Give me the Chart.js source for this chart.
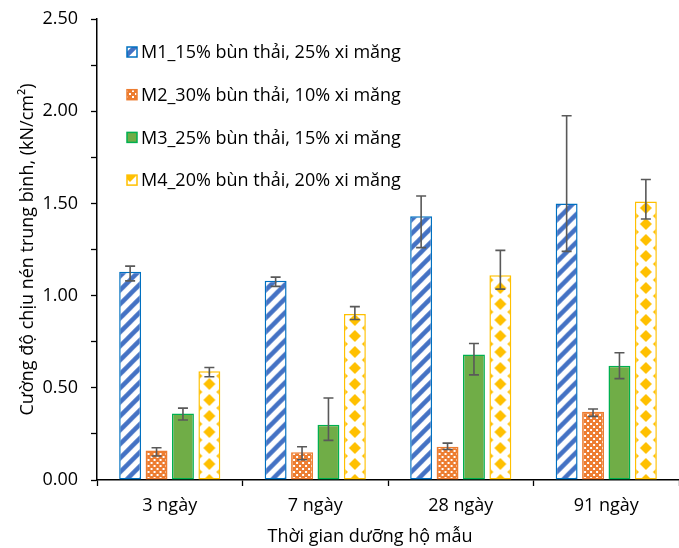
<!DOCTYPE html>
<html>
<head>
<meta charset="utf-8">
<script src="https://cdn.jsdelivr.net/npm/chart.js@4"></script>
<style>
  body { margin: 0; background: #fff; }
  #wrap { width: 679px; height: 548px; }
</style>
</head>
<body>
<div id="wrap"><canvas id="myChart"></canvas></div>
<script>
// data
const labels = ["3 ngày", "7 ngày", "28 ngày", "91 ngày"];
const seriesNames = [
	"M1_15% bùn thải, 25% xi măng",
	"M2_30% bùn thải, 10% xi măng",
	"M3_25% bùn thải, 15% xi măng",
	"M4_20% bùn thải, 20% xi măng",
];
const m1 = [1.13, 1.08, 1.43, 1.50];
const m2 = [0.16, 0.15, 0.18, 0.37];
const m3 = [0.36, 0.30, 0.68, 0.62];
const m4 = [0.59, 0.90, 1.11, 1.51];
// error bars (upper / lower amounts)
const m1Plus = [0.03, 0.02, 0.11, 0.475];
const m1Minus = [0.05, 0.03, 0.17, 0.26];
const m2Plus = [0.015, 0.03, 0.02, 0.015];
const m2Minus = [0.03, 0.04, 0.015, 0.025];
const m3Plus = [0.03, 0.145, 0.06, 0.07];
const m3Minus = [0.035, 0.085, 0.11, 0.07];
const m4Plus = [0.02, 0.04, 0.135, 0.12];
const m4Minus = [0.03, 0.03, 0.075, 0.095];
const yTicks = [0, 0.5, 1.0, 1.5, 2.0, 2.5];

const FONT = "'Open Sans', sans-serif";
const catPct = 0.726;
const barPct = 0.83;

function makeTile(kind) {
	const c = document.createElement("canvas");
	const g = c.getContext("2d");
	if (kind === "stripe") {
		c.width = 14; c.height = 14;
		g.fillStyle = "#fff"; g.fillRect(0, 0, 14, 14);
		g.strokeStyle = "#4472C4"; g.lineWidth = 4.5;
		g.beginPath();
		g.moveTo(-7, 7); g.lineTo(7, -7);
		g.moveTo(0, 14); g.lineTo(14, 0);
		g.moveTo(7, 21); g.lineTo(21, 7);
		g.stroke();
	} else if (kind === "check") {
		c.width = 6; c.height = 6;
		g.fillStyle = "#ED7D31"; g.fillRect(0, 0, 6, 6);
		g.fillStyle = "#fff";
		g.fillRect(0, 0, 2, 2);
		g.fillRect(3, 3, 2, 2);
	} else if (kind === "diamond") {
		c.width = 26; c.height = 16;
		g.fillStyle = "#fff"; g.fillRect(0, 0, 26, 16);
		g.fillStyle = "#FFC000";
		const pts = [[0, 0], [26, 0], [0, 16], [26, 16], [13, 8]];
		pts.forEach(([x, y]) => {
			g.beginPath();
			g.moveTo(x, y - 6); g.lineTo(x + 6, y); g.lineTo(x, y + 6); g.lineTo(x - 6, y);
			g.closePath(); g.fill();
		});
	}
	return c;
}

const tiles = {
	stripe: makeTile("stripe"),
	check: makeTile("check"),
	diamond: makeTile("diamond"),
};

function patternFill(kind) {
	return (ctx) => {
		const chart = ctx.chart;
		const pat = chart.ctx.createPattern(tiles[kind], "repeat");
		const sx = chart.scales && chart.scales.x;
		if (ctx.type === "data" && sx) {
			const slot = (sx.width / labels.length) * catPct / 4;
			const cx = sx.getPixelForValue(ctx.dataIndex) + (ctx.datasetIndex - 1.5) * slot;
			pat.setTransform(new DOMMatrix([1, 0, 0, 1, cx, 0]));
		}
		return pat;
	};
}

const errPlus = [m1Plus, m2Plus, m3Plus, m4Plus];
const errMinus = [m1Minus, m2Minus, m3Minus, m4Minus];

const errorBars = {
	id: "errorBars",
	afterDatasetsDraw(chart) {
		const g = chart.ctx;
		const y = chart.scales.y;
		g.save();
		g.strokeStyle = "#595959";
		g.lineWidth = 1.6;
		chart.data.datasets.forEach((ds, di) => {
			const meta = chart.getDatasetMeta(di);
			meta.data.forEach((bar, i) => {
				const v = ds.data[i];
				const top = y.getPixelForValue(v + errPlus[di][i]);
				const bot = y.getPixelForValue(v - errMinus[di][i]);
				g.beginPath();
				g.moveTo(bar.x, top); g.lineTo(bar.x, bot);
				g.moveTo(bar.x - 5, top); g.lineTo(bar.x + 5, top);
				g.moveTo(bar.x - 5, bot); g.lineTo(bar.x + 5, bot);
				g.stroke();
			});
		});
		g.restore();
	},
};

const legendBox = {
	id: "legendBox",
	afterDraw(chart) {
		const g = chart.ctx;
		g.save();
		g.font = "18px " + FONT;
		g.textBaseline = "middle";
		chart.data.datasets.forEach((ds, i) => {
			const yc = 52 + i * 42.7;
			const fill = ds.legendFill;
			g.fillStyle = tiles[fill] ? g.createPattern(tiles[fill], "repeat") : fill;
			g.fillRect(127, yc - 5, 10, 10);
			g.strokeStyle = ds.borderColor;
			g.lineWidth = 1.5;
			g.strokeRect(127, yc - 5, 10, 10);
			g.fillStyle = "#000";
			g.fillText(ds.label, 141, yc + 1);
		});
		// x axis title
		g.textAlign = "center";
		g.fillText("Thời gian dưỡng hộ mẫu", 370, 537);
		g.restore();
	},
};

const ctx = document.getElementById("myChart").getContext("2d");
const myChart = new Chart(ctx, {
	type: "bar",
	data: {
		labels: labels,
		datasets: [
			{
				label: seriesNames[0],
				data: m1,
				backgroundColor: patternFill("stripe"),
				legendFill: "stripe",
				borderColor: "#0070C0",
			},
			{
				label: seriesNames[1],
				data: m2,
				backgroundColor: patternFill("check"),
				legendFill: "check",
				borderColor: "#ED7D31",
			},
			{
				label: seriesNames[2],
				data: m3,
				backgroundColor: "#70AD47",
				legendFill: "#70AD47",
				borderColor: "#00B050",
			},
			{
				label: seriesNames[3],
				data: m4,
				backgroundColor: patternFill("diamond"),
				legendFill: "diamond",
				borderColor: "#FFC000",
			},
		],
	},
	options: {
		responsive: true,
		maintainAspectRatio: false,
		animation: false,
		layout: { padding: { top: 19, right: 0, bottom: 0, left: 0 } },
		datasets: {
			bar: {
				categoryPercentage: catPct,
				barPercentage: barPct,
				borderWidth: 1.5,
				borderSkipped: false,
			},
		},
		plugins: {
			legend: { display: false },
			tooltip: { enabled: false },
		},
		scales: {
			x: {
				grid: {
					offset: true,
					drawOnChartArea: false,
					drawTicks: true,
					tickLength: 6,
					tickColor: "#000",
					tickWidth: 1.3,
				},
				border: { display: true, color: "#000", width: 1.5 },
				ticks: { color: "#000", font: { family: FONT, size: 18 }, padding: 9 },
				afterFit(scale) {
					scale.height = 68;
					scale.paddingLeft = 0;
					scale.paddingRight = 0;
				},
			},
			y: {
				min: 0,
				max: 2.5,
				grid: {
					drawOnChartArea: false,
					drawTicks: true,
					tickLength: 6,
					tickColor: "#000",
					tickWidth: 1.3,
				},
				border: { display: true, color: "#000", width: 1.5 },
				ticks: {
					stepSize: 0.25,
					color: "#000",
					font: { family: FONT, size: 18 },
					padding: 13,
					callback: (v) => (yTicks.some((t) => Math.abs(t - v) < 1e-6) ? v.toFixed(2) : ""),
				},
				title: {
					display: true,
					text: "Cường độ chịu nén trung bình, (kN/cm²)",
					color: "#000",
					font: { family: FONT, size: 18 },
					padding: { top: 17, bottom: 0 },
				},
				afterFit(scale) {
					scale.width = 97;
					scale.paddingTop = 0;
					scale.paddingBottom = 0;
				},
			},
		},
	},
	plugins: [errorBars, legendBox],
});
</script>
</body>
</html>
